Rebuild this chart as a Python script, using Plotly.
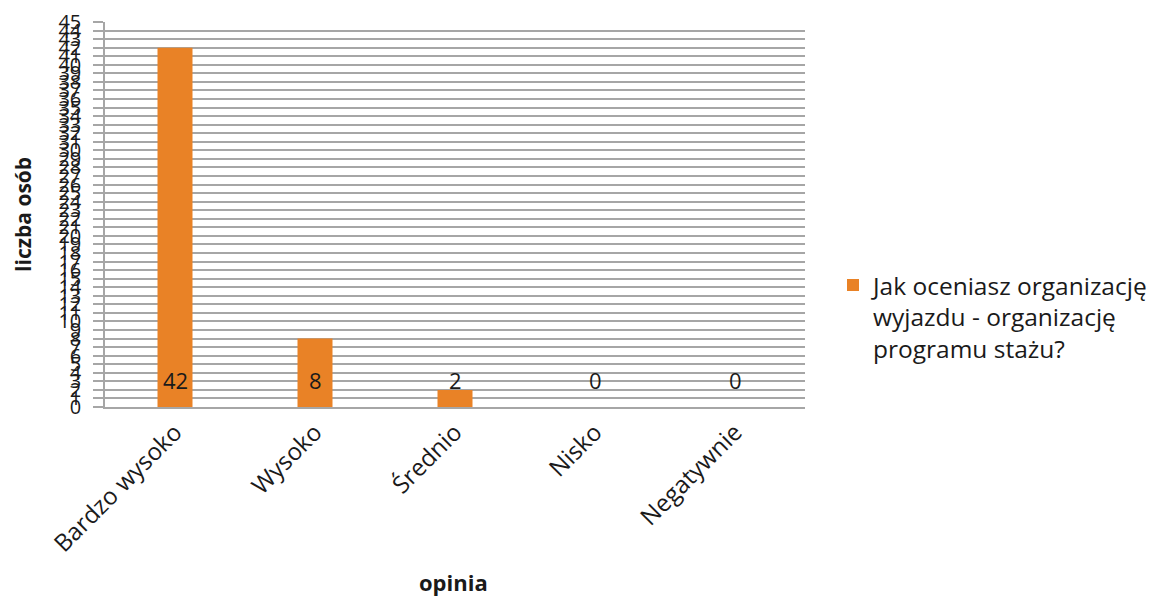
import plotly.graph_objects as go

# Survey answers and counts
categories = ["Bardzo wysoko", "Wysoko", "Średnio", "Nisko", "Negatywnie"]
counts = [42, 8, 2, 0, 0]
series_name = "Jak oceniasz organizację<br>wyjazdu - organizację<br>programu stażu?"
x_title = "opinia"
y_title = "liczba osób"
y_ticks = list(range(0, 46))

FONT = "Open Sans"
BAR_COLOR = "#E98226"
GRID = "#A6A6A6"
TEXT = "#1a1a1a"

fig = go.Figure()
fig.add_trace(go.Bar(
    x=categories,
    y=counts,
    name=series_name,
    marker=dict(color=BAR_COLOR, line=dict(width=0)),
    width=0.25,
    showlegend=True,
))

# value labels sit near the base of each column
for cat, v in zip(categories, counts):
    fig.add_annotation(
        x=cat, y=3.1, text=str(v), showarrow=False,
        xref="x", yref="y", yanchor="middle",
        font=dict(family=FONT, size=22, color=TEXT),
    )

# axis titles placed relative to the plotting area
fig.add_annotation(
    x=0.498, y=-0.455, xref="paper", yref="paper",
    text=f"<b>{x_title}</b>", showarrow=False, yanchor="middle",
    font=dict(family=FONT, size=22, color=TEXT),
)
fig.add_annotation(
    x=-0.118, y=0.5, xref="paper", yref="paper",
    text=f"<b>{y_title}</b>", showarrow=False, textangle=-90,
    xanchor="center", yanchor="middle",
    font=dict(family=FONT, size=21, color=TEXT),
)

fig.update_layout(
    width=1166, height=599,
    margin=dict(l=105, r=358, t=22, b=192),
    paper_bgcolor="white", plot_bgcolor="white",
    font=dict(family=FONT, color=TEXT),
    bargap=0.75,
    legend=dict(
        x=1.04, y=0.375, xanchor="left", yanchor="top",
        valign="top",
        font=dict(family=FONT, size=24.5, color=TEXT),
        bgcolor="rgba(0,0,0,0)",
        tracegroupgap=0,
    ),
    xaxis=dict(
        automargin=False,
        tickangle=-45,
        tickfont=dict(family=FONT, size=24),
        showgrid=False,
        showline=True, linecolor=GRID, linewidth=1.5,
        ticks="", range=[-0.5, 4.5],
    ),
    yaxis=dict(
        automargin=False,
        range=[0, 45],
        tickmode="array", tickvals=y_ticks, ticktext=[str(t) for t in y_ticks],
        tickfont=dict(family=FONT, size=20),
        ticklabelstandoff=8,
        showgrid=True, gridcolor=GRID, gridwidth=1.5,
        showline=True, linecolor=GRID, linewidth=1.5,
        ticks="outside", ticklen=10, tickcolor=GRID, tickwidth=1.5,
        zeroline=False,
    ),
)

fig.write_html("out.html")
